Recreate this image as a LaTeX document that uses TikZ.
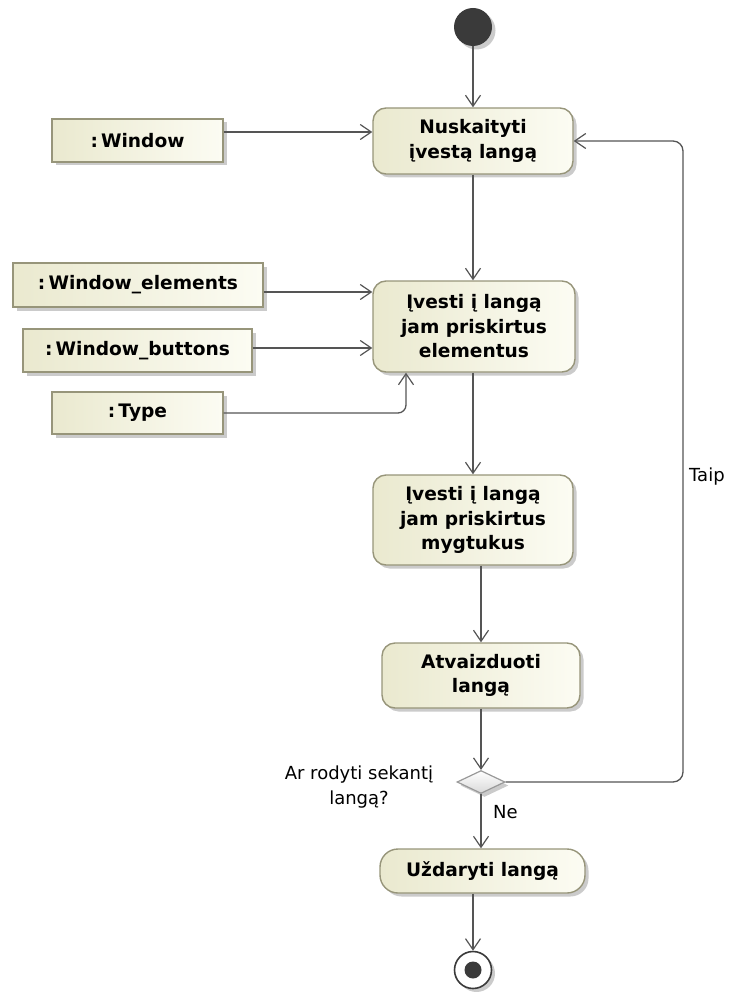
\documentclass[tikz,border=0pt]{standalone}
\usepackage{fontspec}
\setmainfont{DejaVu Sans}
\usetikzlibrary{arrows.meta,shadows,shapes.geometric}

\definecolor{boxborder}{HTML}{97957A}
\definecolor{boxdark}{HTML}{EAE9CF}
\definecolor{boxlight}{HTML}{FCFCF3}
\definecolor{wire}{HTML}{555555}
\definecolor{dot}{HTML}{3A3A3A}

\tikzset{
  shade/.style={drop shadow={shadow xshift=3.5pt, shadow yshift=-3.5pt, fill=black!45, opacity=.45}},
  action/.style={draw=boxborder, line width=1.4pt, rounded corners=13pt,
    left color=boxdark, right color=boxlight, shade, align=center, inner sep=0pt,
    font=\bfseries\fontsize{18.6}{24.5}\selectfont},
  objbox/.style={draw=boxborder, line width=1.4pt,
    left color=boxdark, right color=boxlight, shade, align=center, inner sep=0pt,
    font=\bfseries\fontsize{18.6}{22}\selectfont},
  decision/.style={diamond, draw=black!40, line width=1.2pt, top color=white, bottom color=black!15,
    shade, inner sep=0pt, aspect=2.1, minimum width=48pt, minimum height=23pt},
  plain/.style={font=\fontsize{18}{25}\selectfont, align=center, inner sep=0pt},
  flow/.style={draw=wire, line width=1.3pt, -{Straight Barb[length=11pt,width=15pt,line width=1.2pt]}},
}

\begin{document}
\begin{tikzpicture}[x=1pt,y=-1pt]
\useasboundingbox (0,0) rectangle (732,992);

% start and end
\node[circle, fill=dot, minimum size=38pt, inner sep=0pt, shade] (start) at (473,27) {};

% actions
\node[action, minimum width=200pt, minimum height=66pt] (read) at (473,141)
  {Nuskaityti\\įvestą langą};
\node[action, minimum width=202pt, minimum height=91pt] (elems) at (474,326.5)
  {Įvesti į langą\\jam priskirtus\\elementus};
\node[action, minimum width=200pt, minimum height=90pt] (btns) at (473,520)
  {Įvesti į langą\\jam priskirtus\\mygtukus};
\node[action, minimum width=198pt, minimum height=65pt] (show) at (481,675.5)
  {Atvaizduoti\\langą};
\node[decision] (ask) at (481,782) {};
\node[action, rounded corners=18pt, minimum width=205pt, minimum height=44pt] (close) at (482.5,871)
  {Uždaryti langą};
\node[circle, draw=dot, line width=1.6pt, fill=white, minimum size=37pt, inner sep=0pt, shade] (stop) at (473,970) {};
\node[circle, fill=dot, minimum size=17pt, inner sep=0pt] (stopdot) at (stop.center) {};

% object nodes
\node[objbox, minimum width=171pt, minimum height=43pt] (win) at (137.5,140.5) {:\,Window};
\node[objbox, minimum width=250pt, minimum height=44pt] (wel) at (138,285) {:\,Window\_elements};
\node[objbox, minimum width=229pt, minimum height=43pt] (wbt) at (137.5,350.5) {:\,Window\_buttons};
\node[objbox, minimum width=171pt, minimum height=42pt] (typ) at (137.5,413) {:\,Type};

% labels
\node[plain] (asklbl) at (359,787) {Ar rodyti sekantį\\langą?};
\node[plain, anchor=west] (ne) at (493,812) {Ne};
\node[plain, anchor=west] (taip) at (689,477) {Taip};
\coordinate (loopx) at (683,0);

% control flow
\draw[flow] (start) -- (read);
\draw[flow] (read) -- (elems.north -| read.south);
\draw[flow] (elems.south -| btns.north) -- (btns);
\draw[flow] (btns.south -| show.north) -- (show);
\draw[flow] (show) -- (ask);
\draw[flow] (ask) -- (close.north -| ask.south);
\draw[flow] (close.south -| stop.north) -- (stop);
\draw[flow, rounded corners=10pt] (ask.east) -- (ask.east -| loopx) -- (read.east -| loopx) -- (read.east);

% object flow
\draw[flow] ([yshift=8.5pt]win.east) -- ([yshift=8.5pt]win.east -| read.west);
\draw[flow] ([yshift=-7pt]wel.east) -- ([yshift=-7pt]wel.east -| elems.west);
\draw[flow] ([yshift=2.5pt]wbt.east) -- ([yshift=2.5pt]wbt.east -| elems.west);
\draw[flow, rounded corners=8pt] (typ.east) -| ([xshift=-68pt]elems.south);
\end{tikzpicture}
\end{document}
